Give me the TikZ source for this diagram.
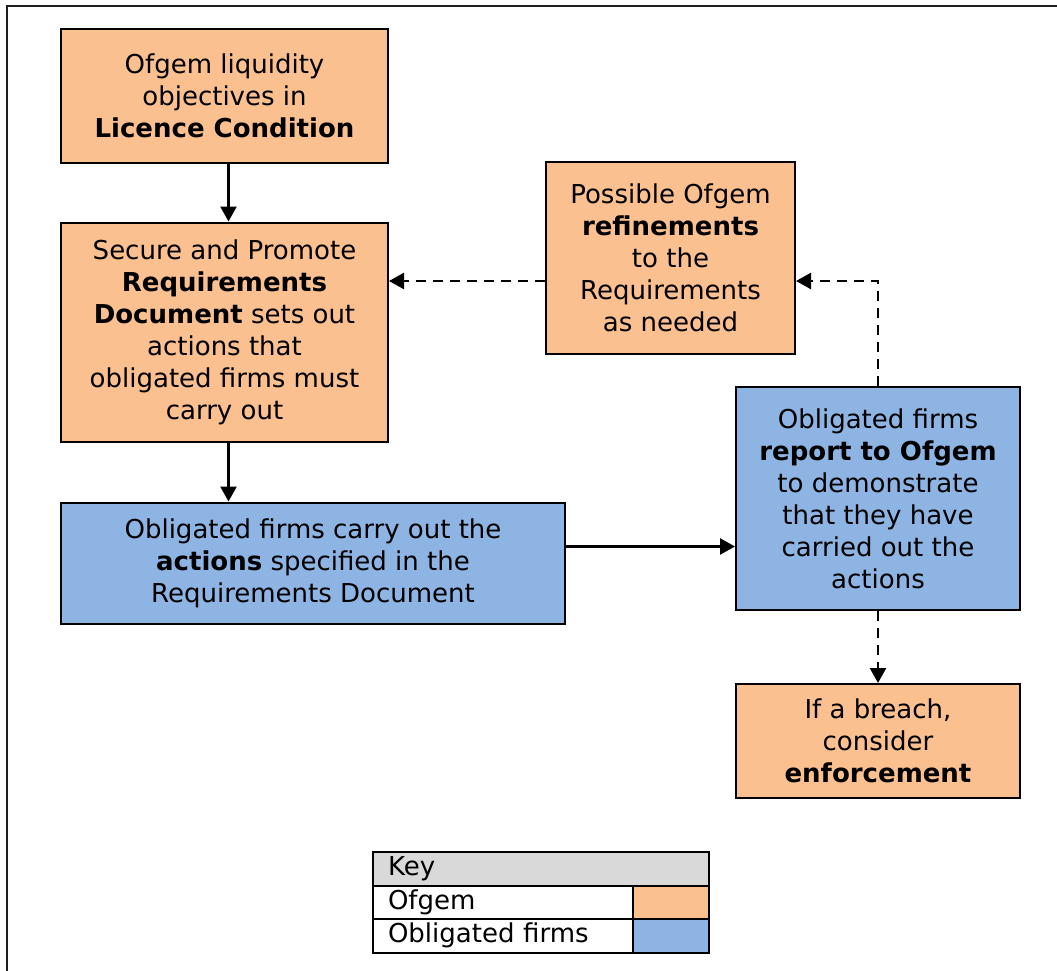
\documentclass[tikz,border=0pt]{standalone}
\usepackage{fontspec}
\setmainfont{DejaVu Sans}
\usepackage{tikz}
\usetikzlibrary{arrows.meta, positioning, calc}
\definecolor{ofgemcolor}{RGB}{250, 192, 144}
\definecolor{firmcolor}{RGB}{142, 180, 227}
\definecolor{keycolor}{RGB}{217, 217, 217}
\definecolor{linecolor}{RGB}{0, 0, 0}
\definecolor{framecolor}{RGB}{30, 30, 30}
\tikzstyle{ofgembox} = [draw=linecolor, rectangle, align=center, fill=ofgemcolor, line width=2pt, inner sep=0pt]
\tikzstyle{firmbox} = [draw=linecolor, rectangle, align=center, fill=firmcolor, line width=2pt, inner sep=0pt]
\tikzstyle{keycell} = [draw=linecolor, rectangle, line width=2pt, outer sep=0pt, inner xsep=15pt, inner ysep=0pt, minimum height=33.5pt, align=left]
\tikzstyle{arrow} = [line width=2.5pt, -{Triangle[length=15pt, width=16pt]}, color=linecolor]
\tikzstyle{dasharrow} = [arrow, dash pattern=on 10pt off 7pt]

\begin{document}
\begin{tikzpicture}[x=1pt, y=-1pt, font=\fontsize{26}{32}\selectfont]

\useasboundingbox (0, 0) rectangle (1057, 971);
\draw [line width=2.5pt, color=framecolor] (7, 971) -- (7, 6) -- (1057, 6);

% Nodes
\node (licence) [ofgembox, minimum width=327pt, minimum height=133pt] at (224.5, 96) {Ofgem liquidity\\objectives in\\\textbf{Licence Condition}};

\node (req) [ofgembox, minimum width=327pt, minimum height=219pt, below=58pt of licence] {Secure and Promote\\\textbf{Requirements}\\\textbf{Document} sets out\\actions that\\obligated firms must\\carry out};

\node (act) [firmbox, minimum width=504pt, minimum height=121pt, below right=59pt and 0pt of req.south west] {Obligated firms carry out the\\\textbf{actions} specified in the\\Requirements Document};

\node (refine) [ofgembox, minimum width=249pt, minimum height=192pt] at (670.5, 258) {Possible Ofgem\\\textbf{refinements}\\to the\\Requirements\\as needed};

\node (report) [firmbox, minimum width=284pt, minimum height=223pt] at (878, 498.5) {Obligated firms\\\textbf{report to Ofgem}\\to demonstrate\\that they have\\carried out the\\actions};

\node (breach) [ofgembox, minimum width=284pt, minimum height=114pt, below=72pt of report] {If a breach,\\consider\\\textbf{enforcement}};

% Key
\node (keyhead) [keycell, fill=keycolor, text width=306pt, anchor=north west] at (373, 852) {Key};
\node (keyofgem) [keycell, text width=230pt, below right=0pt and 0pt of keyhead.south west] {Ofgem};
\node (swofgem) [keycell, fill=ofgemcolor, minimum width=76pt, inner xsep=0pt, right=0pt of keyofgem] {};
\node (keyfirms) [keycell, text width=230pt, below=0pt of keyofgem] {Obligated firms};
\node (swfirms) [keycell, fill=firmcolor, minimum width=76pt, inner xsep=0pt, right=0pt of keyfirms] {};

% Arrows
\draw [arrow] ([xshift=4pt]licence.south) -- ([xshift=4pt]req.north);
\draw [arrow] ([xshift=4pt]req.south) -- ([xshift=4pt]req.south |- act.north);
\draw [arrow] ([yshift=16.5pt]act.east) -- ([yshift=16.5pt]act.east -| report.west);

\draw [dasharrow] ([yshift=-23pt]refine.west) -- ([yshift=-23pt]refine.west -| req.east);
\draw [dasharrow] (report.north) |- ([yshift=-23pt]refine.east);
\draw [dasharrow] (report) -- (breach);

\end{tikzpicture}
\end{document}
